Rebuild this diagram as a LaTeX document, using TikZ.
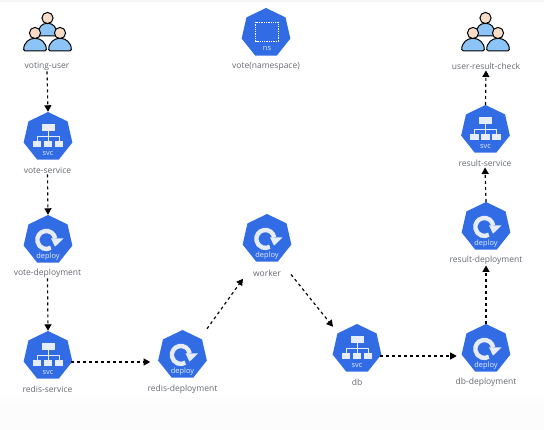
\documentclass[tikz,border=0pt]{standalone}
\usepackage{fontspec}
\setmainfont{Open Sans}
\usetikzlibrary{shapes.geometric,arrows.meta,calc}
\definecolor{kblue}{HTML}{326CE5}
\definecolor{skin}{HTML}{F7DCC8}
\definecolor{shirt}{HTML}{8CC4F8}
\definecolor{lab}{HTML}{666A70}
\definecolor{iconw}{HTML}{E6ECFA}
\tikzset{
  x=1pt,y=-1pt,
  hepta/.style={regular polygon,regular polygon sides=7,minimum size=50pt,inner sep=0pt,fill=kblue,draw=none},
  lbl/.style={font=\fontsize{8.5}{10}\selectfont,text=lab,inner sep=1pt},
  inner/.style={font=\fontsize{7.4}{8}\selectfont,text=iconw,inner sep=0pt},
  conn/.style={draw=black,line width=1.15pt,dash pattern=on 3pt off 3pt,-{Triangle[length=6.5pt,width=7pt]}},
  wbox/.style={fill=iconw,draw=none},
  outl/.style={draw=black,line width=1pt}
}
\newcommand{\svcicon}[2]{%
  \node[hepta] (#1) at (#2) {};
  \begin{scope}[shift={(#2)}]
    \fill[wbox] (-6.5,-12.5) rectangle (6.5,-5.5);
    \draw[iconw,line width=.7pt] (0,-5.5) -- (0,4) (-11,4) -- (-11,-1) -- (11,-1) -- (11,4);
    \foreach \d in {-11,0,11} \fill[wbox] (\d-4.2,4) rectangle (\d+4.2,10);
    \node[inner] at (0,16.5) {svc};
  \end{scope}}
\newcommand{\depicon}[2]{%
  \node[hepta] (#1) at (#2) {};
  \begin{scope}[shift={(#2)}]
    \draw[iconw,line width=4.4pt] (7.2,-1.6) arc[start angle=-10,end angle=-300,radius=9];
    \fill[iconw] (3,-1.7) -- (15.7,-1.7) -- (7,6.7) -- cycle;
    \node[inner] at (0,16.5) {deploy};
  \end{scope}}
\newcommand{\personicon}[3]{%
  \begin{scope}[shift={(#1)}]
    \draw[outl,fill=shirt,rounded corners=1.5pt] (-#2,18) .. controls (-#2,9) and (-5,#3) .. (0,#3) .. controls (5,#3) and (#2,9) .. (#2,18) -- cycle;
    \draw[outl,fill=skin] (0,0) circle (5.6);
  \end{scope}}
\newcommand{\usersicon}[2]{%
  \coordinate (#1) at (#2);
  \personicon{$(#2)+(0,-14.5)$}{9.5}{5.5}
  \personicon{$(#2)+(-12.5,0.5)$}{11.3}{5.5}
  \personicon{$(#2)+(12.5,0.5)$}{11.3}{5.5}}
\begin{document}
\begin{tikzpicture}
\useasboundingbox (0,0) rectangle (544,430);
\fill[white] (0,0) rectangle (544,430);
\fill[black!1] (0,404) rectangle (544,430);
\fill[top color=white,bottom color=black!1] (0,392) rectangle (544,404);
\fill[blue!30!black!4] (0,0) rectangle (544,2.5);

\usersicon{u1}{47.5,32.5}
\usersicon{u2}{485.5,32.5}
\svcicon{vs}{48,137}
\depicon{vd}{48,240}
\svcicon{rs}{48,356}
\depicon{rd}{182.5,355}
\depicon{wk}{267,239}
\svcicon{db}{357,349}
\depicon{dd}{486,349}
\depicon{rpd}{486,227}
\svcicon{rsv}{485.5,130}

\node[hepta] (ns) at (266,33) {};
\draw[white,line width=.8pt,dash pattern=on 1.3pt off 1pt] (255.5,22) rectangle (278,41);
\node[inner] at (267,49) {ns};

\node[lbl] (lu1) at (47,66) {voting-user};
\node[lbl] (lvs) at (47.5,170) {vote-service};
\node[lbl] (lvd) at (47.5,273) {vote-deployment};
\node[lbl] (lrs) at (47.5,389) {redis-service};
\node[lbl] (lrd) at (182.5,389) {redis-deployment};
\node[lbl] (lwk) at (267,273) {worker};
\node[lbl] (ldb) at (357,382) {db};
\node[lbl] (ldd) at (486,382) {db-deployment};
\node[lbl] (lrpd) at (486,260) {result-deployment};
\node[lbl] (lrsv) at (485,163) {result-service};
\node[lbl] (lns) at (266,66) {vote(namespace)};
\node[lbl] (lu2) at (486,66) {user-result-check};

\draw[conn] (lu1.south) -- (vs.north);
\draw[conn] (lvs.south) -- (vd.north);
\draw[conn] (lvd.south) -- (rs.north);
\draw[conn,shorten >=9pt] ([yshift=-6pt]rs.east) -- ([yshift=-7pt]rd.west);
\draw[conn] ($(rd.north)+(24.5,-1)$) -- ($(wk.south)+(-24,17)$);
\draw[conn] ($(lwk.south)+(24,-3)$) -- ($(db.north)+(-24,3)$);
\draw[conn,shorten >=6pt] ([yshift=-7pt]db.east) -- ([yshift=-7pt]dd.west);
\draw[conn] (dd.north) -- (lrpd.south);
\draw[conn] (rpd.north) -- (lrsv.south);
\draw[conn] (rsv.north) -- (lu2.south);
\end{tikzpicture}
\end{document}
